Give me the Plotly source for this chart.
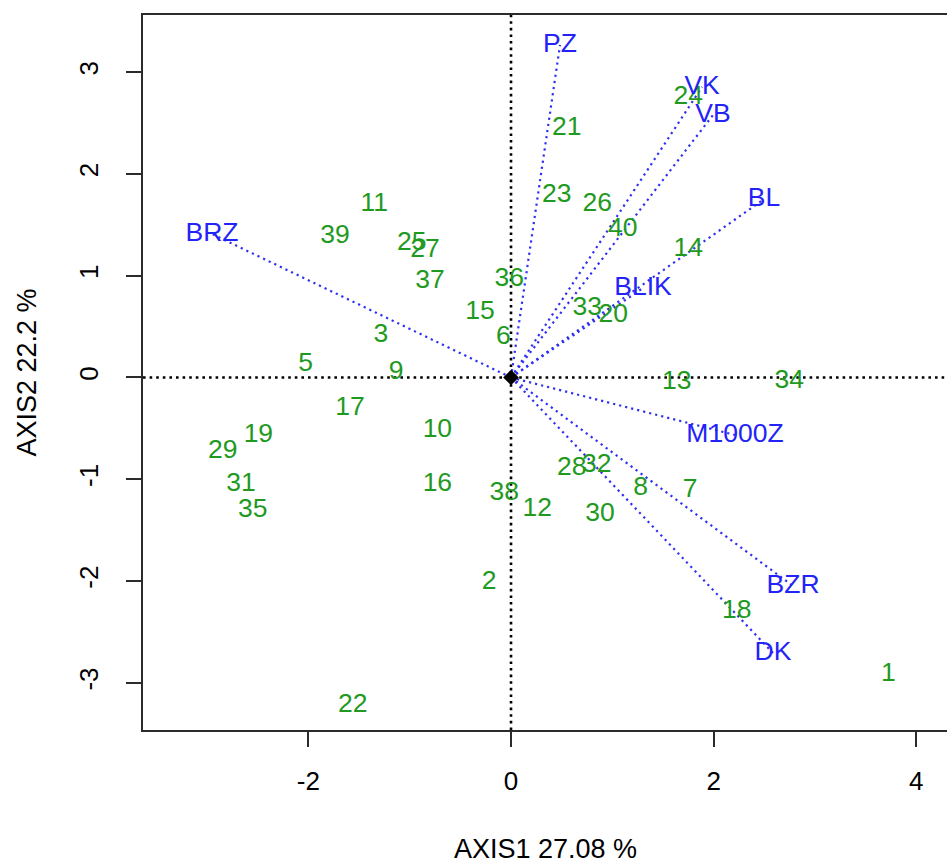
import plotly.graph_objects as go

# Observation scores on the first two axes
obs_labels = ["1", "2", "3", "5", "6", "7", "8", "9", "10", "11", "12", "13", "14",
              "15", "16", "17", "18", "19", "20", "21", "22", "23", "24", "25", "26",
              "27", "28", "29", "30", "31", "32", "33", "34", "35", "36", "37", "38",
              "39", "40"]
obs_axis1 = [3.725, -0.217, -1.286, -2.027, -0.076, 1.767, 1.280, -1.135, -0.727, -1.350,
             0.260, 1.636, 1.750, -0.306, -0.727, -1.589, 2.228, -2.494, 1.010, 0.550,
             -1.563, 0.451, 1.750, -0.980, 0.852, -0.849, 0.599, -2.846, 0.879, -2.665,
             0.846, 0.753, 2.747, -2.550, -0.017, -0.800, -0.066, -1.737, 1.102]
obs_axis2 = [-2.913, -2.012, 0.417, 0.129, 0.395, -1.112, -1.089, 0.047, -0.522, 1.701,
             -1.295, -0.051, 1.259, 0.640, -1.046, -0.303, -2.300, -0.571, 0.614, 2.448,
             -3.217, 1.793, 2.752, 1.318, 1.704, 1.246, -0.892, -0.729, -1.341, -1.046,
             -0.860, 0.680, -0.041, -1.308, 0.965, 0.941, -1.138, 1.383, 1.456]

# Variable loadings (arrow tips)
var_names = ["PZ", "VK", "VB", "BL", "BLIK", "M1000Z", "BZR", "DK", "BRZ"]
var_axis1 = [0.484, 1.886, 1.994, 2.498, 1.303, 2.211, 2.784, 2.586, -2.952]
var_axis2 = [3.266, 2.854, 2.579, 1.753, 0.879, -0.565, -2.048, -2.706, 1.410]

x_ticks = [-2, 0, 2, 4]
y_ticks = [-3, -2, -1, 0, 1, 2, 3]
x_title = "AXIS1 27.08 %"
y_title = "AXIS2 22.2 %"

GREEN = "#1f9a1f"
BLUE = "#2323f8"
FONT = "Liberation Sans, Arial, sans-serif"

x_range = [-3.633, 4.304]
y_range = [-3.463, 3.561]

fig = go.Figure()

# Dotted arrows from the origin to each variable
arrow_x, arrow_y = [], []
for vx, vy in zip(var_axis1, var_axis2):
    arrow_x += [0, vx, None]
    arrow_y += [0, vy, None]
fig.add_trace(go.Scatter(
    x=arrow_x, y=arrow_y, mode="lines",
    line=dict(color="#3030f4", width=2.2, dash="2.2px,4px"),
    hoverinfo="skip", showlegend=False))

# Observation labels
fig.add_trace(go.Scatter(
    x=obs_axis1, y=obs_axis2, mode="text", text=obs_labels,
    textposition="middle center",
    textfont=dict(family=FONT, size=26.5, color=GREEN),
    showlegend=False, cliponaxis=False))

# Variable labels
fig.add_trace(go.Scatter(
    x=var_axis1, y=var_axis2, mode="text", text=var_names,
    textposition="middle center",
    textfont=dict(family=FONT, size=26.5, color=BLUE),
    showlegend=False, cliponaxis=False))

# Origin marker
fig.add_trace(go.Scatter(
    x=[0], y=[0], mode="markers",
    marker=dict(symbol="diamond", size=12, color="black"),
    showlegend=False))

# Dotted reference lines through the origin
fig.add_shape(type="line", xref="paper", x0=0, x1=1, yref="y", y0=0, y1=0,
              line=dict(color="black", width=2.6, dash="2.6px,4px"), layer="below")
fig.add_shape(type="line", yref="paper", y0=0, y1=1, xref="x", x0=0, x1=0,
              line=dict(color="black", width=2.6, dash="2.6px,4px"), layer="below")

axis_common = dict(
    showgrid=False, zeroline=False, showline=True, linecolor="#2b2b2b",
    linewidth=2, ticks="outside", ticklen=15, tickwidth=1.6, tickcolor="#2b2b2b",
    tickfont=dict(family=FONT, size=26, color="black"),
)

fig.update_xaxes(range=x_range, tickvals=x_ticks, ticktext=[str(v) for v in x_ticks],
                 mirror=True, ticklabelstandoff=12, **axis_common)
fig.update_yaxes(range=y_range, tickvals=y_ticks, ticktext=[str(v) for v in y_ticks],
                 tickangle=-90, ticklabelstandoff=18, **axis_common)

fig.add_annotation(text=x_title, xref="paper", yref="paper", x=0.5, y=-0.1664,
                   xanchor="center", yanchor="middle", showarrow=False,
                   font=dict(family=FONT, size=27, color="black"))
fig.add_annotation(text=y_title, xref="paper", yref="paper", x=-0.1443, y=0.5,
                   xanchor="center", yanchor="middle", showarrow=False, textangle=-90,
                   font=dict(family=FONT, size=27, color="black"))

fig.update_layout(
    width=947, height=864,
    margin=dict(l=143, r=0, t=15, b=134),
    plot_bgcolor="white", paper_bgcolor="white",
    showlegend=False,
)

fig.write_html("out.html")
